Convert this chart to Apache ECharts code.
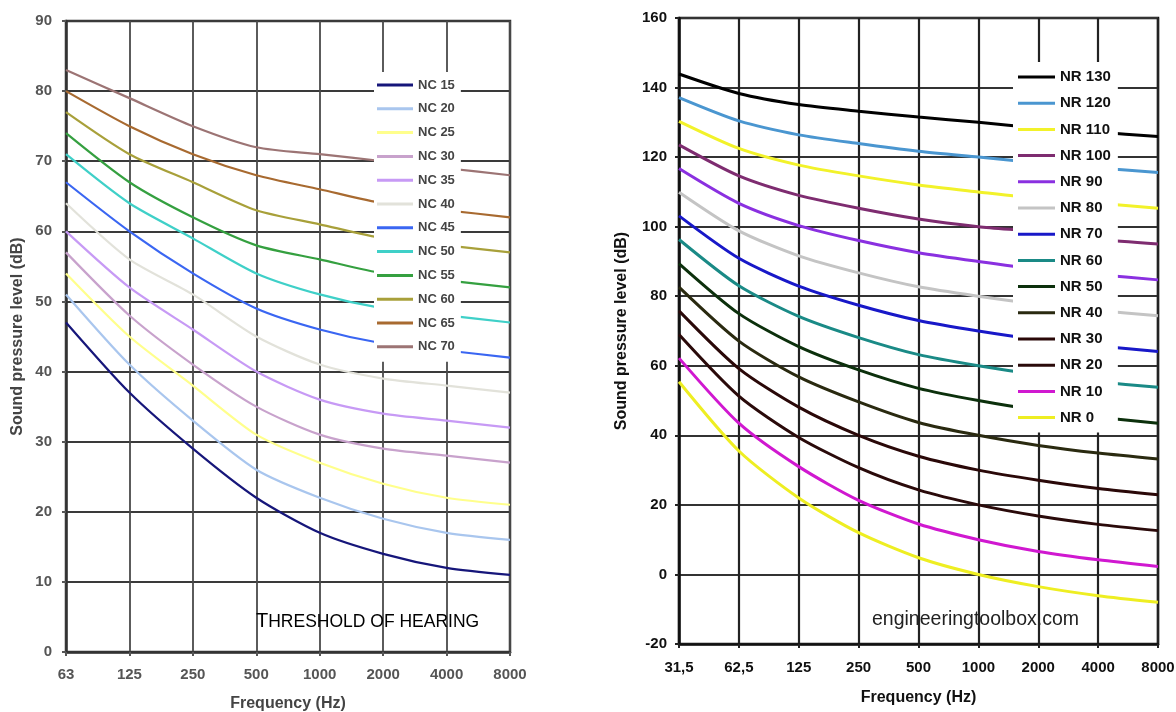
<!DOCTYPE html>
<html>
<head>
<meta charset="utf-8">
<script src="https://cdn.jsdelivr.net/npm/echarts@6/dist/echarts.min.js"></script>
<style>
html,body{margin:0;padding:0;background:#fff;}
#chart{width:1176px;height:712px;}
</style>
</head>
<body>
<div id="chart"></div>
<script>
// ---------- Left chart: NC curves ----------
const ncFrequencies = ['63', '125', '250', '500', '1000', '2000', '4000', '8000'];
const ncNames = ['NC 15', 'NC 20', 'NC 25', 'NC 30', 'NC 35', 'NC 40', 'NC 45', 'NC 50', 'NC 55', 'NC 60', 'NC 65', 'NC 70'];
const nc15 = [47, 37, 29, 22, 17, 14, 12, 11];
const nc20 = [51, 41, 33, 26, 22, 19, 17, 16];
const nc25 = [54, 45, 38, 31, 27, 24, 22, 21];
const nc30 = [57, 48, 41, 35, 31, 29, 28, 27];
const nc35 = [60, 52, 46, 40, 36, 34, 33, 32];
const nc40 = [64, 56, 51, 45, 41, 39, 38, 37];
const nc45 = [67, 60, 54, 49, 46, 44, 43, 42];
const nc50 = [71, 64, 59, 54, 51, 49, 48, 47];
const nc55 = [74, 67, 62, 58, 56, 54, 53, 52];
const nc60 = [77, 71, 67, 63, 61, 59, 58, 57];
const nc65 = [80, 75, 71, 68, 66, 64, 63, 62];
const nc70 = [83, 79, 75, 72, 71, 70, 69, 68];
const ncValues = [nc15, nc20, nc25, nc30, nc35, nc40, nc45, nc50, nc55, nc60, nc65, nc70];
const ncColors = ['#16167a', '#a9c6ee', '#ffff8c', '#c8a2cc', '#c79af5', '#e2e2da', '#3a66f2', '#3fd0c8', '#35a040', '#a8a03a', '#a86a30', '#9c7474'];

// ---------- Right chart: NR curves ----------
const nrFrequencies = ['31,5', '62,5', '125', '250', '500', '1000', '2000', '4000', '8000'];
const nrNames = ['NR 130', 'NR 120', 'NR 110', 'NR 100', 'NR 90', 'NR 80', 'NR 70', 'NR 60', 'NR 50', 'NR 40', 'NR 30', 'NR 20', 'NR 10', 'NR 0'];
const nr130 = [143.9, 138.3, 135.1, 133.2, 131.5, 130.0, 128.4, 127.2, 125.9];
const nr120 = [137.1, 130.4, 126.4, 123.9, 121.7, 120.0, 118.3, 116.9, 115.6];
const nr110 = [130.3, 122.5, 117.7, 114.6, 112.0, 110.0, 108.1, 106.7, 105.3];
const nr100 = [123.5, 114.6, 109.0, 105.3, 102.2, 100.0, 98.5, 96.4, 95.0];
const nr90 = [116.7, 106.7, 100.3, 96.0, 92.5, 90.0, 87.8, 86.2, 84.7];
const nr80 = [109.9, 98.8, 91.6, 86.7, 82.7, 80.0, 77.7, 75.9, 74.4];
const nr70 = [103.1, 90.9, 82.9, 77.4, 73.0, 70.0, 67.5, 65.7, 64.1];
const nr60 = [96.3, 83.0, 74.2, 68.1, 63.2, 60.0, 57.4, 55.4, 53.8];
const nr50 = [89.4, 75.0, 65.5, 58.8, 53.5, 50.0, 47.2, 45.2, 43.5];
const nr40 = [82.6, 67.1, 56.8, 49.6, 43.7, 40.0, 37.1, 34.9, 33.2];
const nr30 = [75.8, 59.2, 48.1, 40.0, 34.0, 30.0, 27.1, 24.7, 22.9];
const nr20 = [69.0, 51.3, 39.4, 30.7, 24.3, 20.0, 16.8, 14.4, 12.6];
const nr10 = [62.2, 43.5, 31.0, 21.3, 14.5, 10.0, 6.6, 4.2, 2.3];
const nr0 = [55.4, 35.5, 22.0, 12.0, 4.8, 0.0, -3.5, -6.1, -8.0];
const nrValues = [nr130, nr120, nr110, nr100, nr90, nr80, nr70, nr60, nr50, nr40, nr30, nr20, nr10, nr0];
const nrColors = ['#000000', '#4a96d0', '#f2f22a', '#7e2c70', '#8a30e0', '#c4c4c4', '#1818c8', '#1a8a86', '#0c300c', '#2a2a10', '#2a0808', '#2a0a0a', '#d018d0', '#eeee22'];

const FONT = '"Liberation Sans", Arial, sans-serif';

const series = [];
ncNames.forEach((name, i) => {
  series.push({
    name: name, type: 'line', xAxisIndex: 0, yAxisIndex: 0,
    data: ncValues[i], smooth: 0.25, showSymbol: false, symbol: 'none',
    lineStyle: { color: ncColors[i], width: 2.2 }, itemStyle: { color: ncColors[i] },
    z: 3
  });
});
nrNames.forEach((name, i) => {
  series.push({
    name: name, type: 'line', xAxisIndex: 1, yAxisIndex: 1,
    data: nrValues[i], smooth: 0.25, showSymbol: false, symbol: 'none',
    lineStyle: { color: nrColors[i], width: 3 }, itemStyle: { color: nrColors[i] },
    z: 3
  });
});

const chart = echarts.init(document.getElementById('chart'), null, { renderer: 'canvas' });
chart.setOption({
  animation: false,
  backgroundColor: '#ffffff',
  textStyle: { fontFamily: FONT },
  grid: [
    { left: 66, top: 21, width: 444, height: 631, containLabel: false, outerBoundsMode: 'none',
      show: true, borderColor: '#333', borderWidth: 2.5, backgroundColor: 'transparent' },
    { left: 679, top: 18, width: 479, height: 626, containLabel: false, outerBoundsMode: 'none',
      show: true, borderColor: '#111', borderWidth: 2.5, backgroundColor: 'transparent' }
  ],
  xAxis: [
    {
      type: 'category', gridIndex: 0, data: ncFrequencies, boundaryGap: false,
      name: 'Frequency (Hz)', nameLocation: 'middle', nameGap: 44,
      nameTextStyle: { fontFamily: FONT, fontSize: 16, fontWeight: 'bold', color: '#444' },
      axisLine: { onZero: false, lineStyle: { color: '#333', width: 2.5 } },
      axisTick: { show: true, length: 4, lineStyle: { color: '#555', width: 2 } },
      axisLabel: { margin: 15, fontFamily: FONT, fontSize: 15, fontWeight: 'bold', color: '#555' },
      splitLine: { show: true, lineStyle: { color: '#4a4a4a', width: 1.8 } }
    },
    {
      type: 'category', gridIndex: 1, data: nrFrequencies, boundaryGap: false,
      name: 'Frequency (Hz)', nameLocation: 'middle', nameGap: 46,
      nameTextStyle: { fontFamily: FONT, fontSize: 16, fontWeight: 'bold', color: '#111' },
      axisLine: { onZero: false, lineStyle: { color: '#111', width: 2.5 } },
      axisTick: { show: true, length: 4, lineStyle: { color: '#222', width: 2 } },
      axisLabel: { margin: 16, fontFamily: FONT, fontSize: 15, fontWeight: 'bold', color: '#111' },
      splitLine: { show: true, lineStyle: { color: '#222', width: 2.2 } }
    }
  ],
  yAxis: [
    {
      type: 'value', gridIndex: 0, min: 0, max: 90, interval: 10,
      name: 'Sound pressure level (dB)', nameLocation: 'middle', nameGap: 40, nameRotate: 90,
      nameTextStyle: { fontFamily: FONT, fontSize: 16, fontWeight: 'bold', color: '#444' },
      axisLine: { show: true, onZero: false, lineStyle: { color: '#333', width: 2.5 } },
      axisTick: { show: true, length: 4, lineStyle: { color: '#555', width: 2 } },
      axisLabel: { margin: 14, fontFamily: FONT, fontSize: 15, fontWeight: 'bold', color: '#555' },
      splitLine: { show: true, lineStyle: { color: '#3a3a3a', width: 2 } }
    },
    {
      type: 'value', gridIndex: 1, min: -20, max: 160, interval: 20,
      name: 'Sound pressure level (dB)', nameLocation: 'middle', nameGap: 49, nameRotate: 90,
      nameTextStyle: { fontFamily: FONT, fontSize: 16, fontWeight: 'bold', color: '#111' },
      axisLine: { show: true, onZero: false, lineStyle: { color: '#111', width: 2.5 } },
      axisTick: { show: true, length: 4, lineStyle: { color: '#222', width: 2 } },
      axisLabel: { margin: 12, fontFamily: FONT, fontSize: 15, fontWeight: 'bold', color: '#111' },
      splitLine: { show: true, lineStyle: { color: '#333', width: 2 } }
    }
  ],
  legend: [
    {
      data: ncNames, orient: 'vertical', left: 374, top: 72,
      backgroundColor: '#ffffff', padding: [6, 6, 8, 3],
      icon: 'rect', itemWidth: 36, itemHeight: 3, itemGap: 9.8,
      textStyle: { fontFamily: FONT, fontSize: 13, fontWeight: 'bold', color: '#444', lineHeight: 14 },
      selectedMode: false, z: 10
    },
    {
      data: nrNames, orient: 'vertical', left: 1013, top: 62,
      backgroundColor: '#ffffff', padding: [7, 7, 7, 5],
      icon: 'rect', itemWidth: 37, itemHeight: 3, itemGap: 10.2,
      textStyle: { fontFamily: FONT, fontSize: 15, fontWeight: 'bold', color: '#111', lineHeight: 16 },
      selectedMode: false, z: 10
    }
  ],
  graphic: [
    {
      type: 'text', left: 256, top: 611, z: 20,
      style: {
        text: '{a|T}{b|HRESHOLD OF HEARING}',
        rich: {
          a: { fontFamily: FONT, fontSize: 20, fill: '#000', verticalAlign: 'bottom' },
          b: { fontFamily: FONT, fontSize: 17.5, fill: '#000', verticalAlign: 'bottom' }
        }
      }
    },
    {
      type: 'text', left: 872, top: 610, z: 20,
      style: { text: 'engineeringtoolbox.com', fontFamily: FONT, fontSize: 19.5, fill: '#222' }
    }
  ],
  series: series
});
</script>
</body>
</html>
